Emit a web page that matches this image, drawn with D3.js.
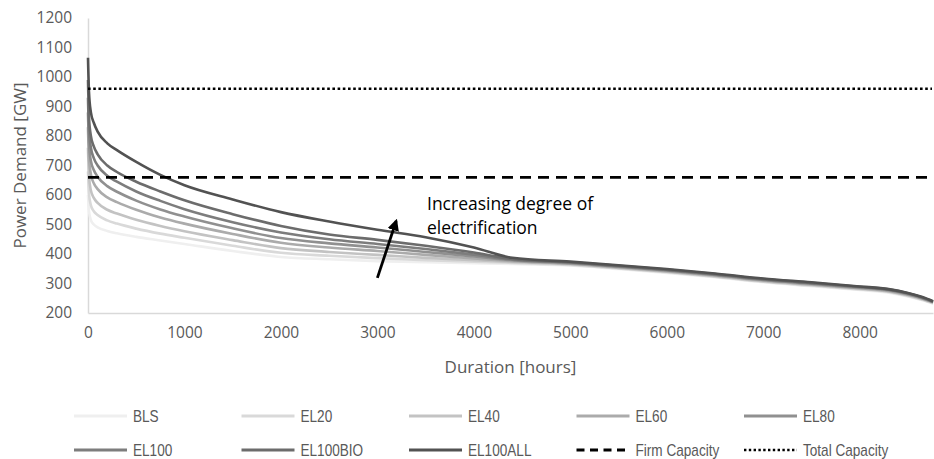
<!DOCTYPE html>
<html>
<head>
<meta charset="utf-8">
<script src="https://cdn.jsdelivr.net/npm/d3@7/dist/d3.min.js"></script>
<style>
  html, body { margin: 0; padding: 0; background: #fff; }
  svg { display: block; }
  .tick text { font-family: "Open Sans", sans-serif; font-size: 15.5px; fill: #595959; }
  .axis-title { font-family: "Open Sans", sans-serif; font-size: 17px; fill: #595959; }
  .legend text { font-family: "Liberation Sans", sans-serif; font-size: 16px; fill: #595959; }
  .note { font-family: "Open Sans", sans-serif; font-size: 17.5px; fill: #000; }
</style>
</head>
<body>
<svg id="chart" width="934" height="459"></svg>
<script>
// Load duration curves: hours of the year sorted by demand
const hours = [0, 10, 30, 60, 100, 200, 300, 500, 750, 1000, 1500, 2000, 2500, 3000, 3500, 4000, 4400,
               5000, 5500, 6000, 6500, 7000, 7500, 8000, 8300, 8500, 8650, 8760];

const seriesNames = ["BLS", "EL20", "EL40", "EL60", "EL80", "EL100", "EL100BIO", "EL100ALL"];

const BLS      = [600, 545, 515, 500, 490, 478, 470, 458, 446, 434, 410, 390, 382, 376, 372, 369, 366,
                  361, 349, 336, 321, 304, 291, 278, 269, 256, 243, 232];
const EL20     = [680, 605, 565, 545, 532, 514, 503, 486, 469, 455, 428, 404, 394, 386, 379, 374, 370,
                  363, 351, 338, 323, 306, 293, 280, 271, 258, 245, 233];
const EL40     = [760, 665, 615, 590, 573, 550, 537, 516, 495, 477, 447, 420, 407, 397, 387, 379, 373,
                  365, 353, 340, 325, 308, 295, 282, 273, 260, 247, 235];
const EL60     = [830, 725, 670, 640, 620, 592, 576, 550, 524, 503, 468, 438, 422, 410, 397, 385, 376,
                  367, 355, 342, 327, 310, 297, 284, 275, 262, 249, 236];
const EL80     = [880, 775, 715, 685, 662, 630, 611, 581, 551, 527, 487, 454, 436, 422, 407, 392, 379,
                  369, 357, 344, 329, 312, 299, 286, 277, 264, 250, 237];
const EL100    = [930, 820, 760, 725, 700, 665, 645, 612, 580, 552, 508, 473, 450, 434, 417, 398, 381,
                  371, 359, 346, 331, 314, 301, 288, 279, 266, 252, 238];
const EL100BIO = [990, 865, 800, 765, 738, 700, 678, 645, 612, 582, 535, 495, 466, 448, 428, 405, 383,
                  372, 360, 347, 332, 315, 302, 289, 280, 267, 253, 239];
const EL100ALL = [1065, 950, 880, 845, 815, 775, 752, 712, 668, 633, 585, 542, 510, 482, 457, 422, 387,
                  374, 362, 349, 334, 317, 304, 290, 281, 268, 254, 240];

const seriesValues = [BLS, EL20, EL40, EL60, EL80, EL100, EL100BIO, EL100ALL];
const seriesColors = ["#efefef", "#d9d9d9", "#c3c3c3", "#ababab", "#909090", "#7d7d7d", "#6c6c6c", "#525252"];

const firmCapacity = 660;
const totalCapacity = 960;

const xTicks = [0, 1000, 2000, 3000, 4000, 5000, 6000, 7000, 8000];
const yTicks = [200, 300, 400, 500, 600, 700, 800, 900, 1000, 1100, 1200];

const svg = d3.select("#chart");
const W = 934, H = 459;
const margin = { top: 18, right: 1, bottom: 146, left: 88 };

const x = d3.scaleLinear().domain([0, 8760]).range([margin.left, W - margin.right]);
const y = d3.scaleLinear().domain([200, 1200]).range([H - margin.bottom, margin.top]);

// Axes
const xAxis = svg.append("g")
  .attr("transform", `translate(0,${y(200)})`)
  .call(d3.axisBottom(x).tickValues(xTicks).tickSize(0).tickPadding(14).tickFormat(d3.format("d")));
xAxis.select(".domain").attr("stroke", "#d9d9d9").attr("stroke-width", 1.5);

const yAxis = svg.append("g")
  .attr("transform", `translate(${x(0)},0)`)
  .call(d3.axisLeft(y).tickValues(yTicks).tickSize(0).tickPadding(16).tickFormat(d3.format("d")));
yAxis.select(".domain").attr("stroke", "#d9d9d9").attr("stroke-width", 1.5);

svg.append("text").attr("class", "axis-title")
  .attr("x", (x(0) + x(8760)) / 2).attr("y", 373)
  .attr("text-anchor", "middle").text("Duration [hours]");

svg.append("text").attr("class", "axis-title")
  .attr("transform", `translate(26,${(y(200) + y(1200)) / 2}) rotate(-90)`)
  .attr("text-anchor", "middle").text("Power Demand [GW]");

// Curves, lightest first so the darker ones sit on top
const line = d3.line()
  .x((d, i) => x(hours[i]))
  .y(d => y(d))
  .curve(d3.curveMonotoneX);

svg.append("g").selectAll("path")
  .data(seriesValues)
  .join("path")
  .attr("d", d => line(d))
  .attr("fill", "none")
  .attr("stroke", (d, i) => seriesColors[i])
  .attr("stroke-width", 2.6)
  .attr("stroke-linejoin", "round");

// Capacity reference lines
svg.append("line")
  .attr("x1", x(0)).attr("x2", x(8760) - 1)
  .attr("y1", y(firmCapacity)).attr("y2", y(firmCapacity))
  .attr("stroke", "#000").attr("stroke-width", 2.8).attr("stroke-dasharray", "11,7");

svg.append("line")
  .attr("x1", x(0)).attr("x2", x(8760) - 1)
  .attr("y1", y(totalCapacity)).attr("y2", y(totalCapacity))
  .attr("stroke", "#000").attr("stroke-width", 2.6).attr("stroke-dasharray", "2.6,2.6");

// Annotation arrow
const defs = svg.append("defs");
defs.append("marker")
  .attr("id", "arrowhead")
  .attr("viewBox", "0 0 10 10")
  .attr("refX", 8).attr("refY", 5)
  .attr("markerWidth", 4.2).attr("markerHeight", 4.2)
  .attr("orient", "auto")
  .append("path").attr("d", "M0,0 L10,5 L0,10 Z").attr("fill", "#000");

const arrowFrom = { h: 3000, v: 319 };
const arrowTo = { h: 3195, v: 512 };
svg.append("line")
  .attr("x1", x(arrowFrom.h)).attr("y1", y(arrowFrom.v))
  .attr("x2", x(arrowTo.h)).attr("y2", y(arrowTo.v))
  .attr("stroke", "#000").attr("stroke-width", 2.8)
  .attr("marker-end", "url(#arrowhead)");

const note = svg.append("text").attr("class", "note")
  .attr("x", 427).attr("y", 210);
note.append("tspan").attr("x", 427).attr("dy", 0).text("Increasing degree of");
note.append("tspan").attr("x", 427).attr("dy", 24).text("electrification");

// Legend: two rows of five entries
const legendItems = seriesNames.map((name, i) => ({ name, color: seriesColors[i], dash: null }));
legendItems.push({ name: "Firm Capacity", color: "#000", dash: "8,5.5", width: 3 });
legendItems.push({ name: "Total Capacity", color: "#000", dash: "2.4,2.4", width: 2.6 });

const legend = svg.append("g").attr("class", "legend");
const colW = 167.5, rowY = [416, 450], lineLen = 53, startX = 74;
legendItems.forEach((it, i) => {
  const col = i % 5, row = Math.floor(i / 5);
  const gx = startX + col * colW, gy = rowY[row];
  legend.append("line")
    .attr("x1", gx).attr("x2", gx + lineLen)
    .attr("y1", gy).attr("y2", gy)
    .attr("stroke", it.color)
    .attr("stroke-width", it.width || 3.2)
    .attr("stroke-dasharray", it.dash);
  legend.append("text")
    .attr("transform", `translate(${gx + lineLen + 6},${gy}) scale(0.85,1)`)
    .attr("dy", "0.35em")
    .text(it.name);
});
</script>
</body>
</html>
